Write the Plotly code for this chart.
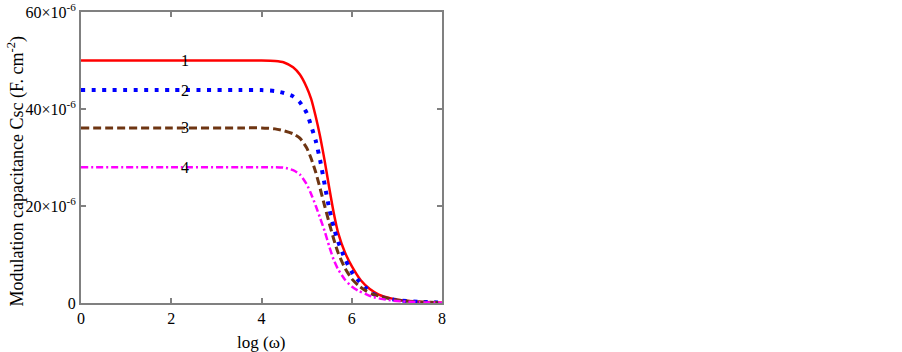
import plotly.graph_objects as go

# Values (capacitance in units of 1e-6 F.cm^-2)
x1 = [0, 2, 3.5, 4.0, 4.3, 4.5, 4.7, 4.85, 5.0, 5.1, 5.2, 5.3, 5.4, 5.5, 5.6, 5.7, 5.85, 6.0, 6.2, 6.4, 6.6, 6.85, 7.1, 7.5, 8.0]
y1 = [50.0, 50.0, 50.0, 50.0, 49.9, 49.6, 48.6, 47.1, 44.5, 42.1, 38.5, 34.3, 29.3, 23.8, 18.6, 14.4, 10.4, 7.6, 4.7, 2.9, 1.75, 1.0, 0.55, 0.25, 0.06]

x2 = [0, 2, 3.5, 4.0, 4.3, 4.5, 4.7, 4.85, 5.0, 5.1, 5.2, 5.3, 5.4, 5.5, 5.6, 5.7, 5.85, 6.0, 6.15, 6.3, 6.45, 6.65, 6.9, 7.1, 7.5, 8.0]
y2 = [43.9, 43.9, 43.9, 43.9, 43.7, 43.3, 42.6, 41.4, 39.2, 36.5, 33.5, 29.4, 24.4, 19.5, 15.6, 12.6, 9.1, 6.4, 4.6, 3.2, 2.0, 1.2, 0.75, 0.5, 0.25, 0.08]

x3 = [0, 2, 3.5, 4.0, 4.3, 4.5, 4.7, 4.85, 5.0, 5.1, 5.2, 5.3, 5.4, 5.5, 5.6, 5.7, 5.85, 6.0, 6.15, 6.3, 6.45, 6.65, 6.9, 7.1, 7.5, 8.0]
y3 = [36.1, 36.1, 36.1, 36.1, 35.9, 35.5, 34.9, 34.0, 32.0, 29.8, 27.0, 23.6, 20.0, 16.5, 13.2, 10.3, 7.2, 5.0, 3.6, 2.6, 1.9, 1.3, 0.8, 0.5, 0.2, 0.08]

x4 = [0, 2, 3.5, 4.0, 4.3, 4.5, 4.7, 4.85, 5.0, 5.1, 5.2, 5.3, 5.4, 5.5, 5.6, 5.7, 5.85, 6.0, 6.15, 6.3, 6.45, 6.65, 6.9, 7.1, 7.5, 8.0]
y4 = [28.0, 28.0, 28.0, 28.0, 28.0, 27.9, 27.4, 26.5, 24.5, 22.5, 20.1, 17.5, 14.8, 11.7, 8.9, 6.9, 4.8, 3.4, 2.5, 1.9, 1.3, 0.85, 0.5, 0.35, 0.15, 0.06]

curve_labels = ["1", "2", "3", "4"]
label_x = 2.3

y_tickvals = [0, 20, 40, 60]
y_ticktext = ["0", "20×10<sup>-6</sup>", "40×10<sup>-6</sup>", "60×10<sup>-6</sup>"]
x_tickvals = [0, 2, 4, 6, 8]

x_title = "log (ω)"
y_title = "Modulation capacitance Csc (F. cm<sup>-2</sup>)"

FONT = "Liberation Serif, Times New Roman, serif"

series = [
    (x1, y1, "#ff0000", "solid", 2.5),
    (x2, y2, "#0000ff", "4px,6.5px", 4),
    (x3, y3, "#6e3512", "8px,4px", 3),
    (x4, y4, "#ff00ff", "7px,3px,2px,3px", 2.5),
]

fig = go.Figure()
for xs, ys, col, dash, w in series:
    fig.add_trace(go.Scatter(
        x=xs, y=ys, mode="lines",
        line=dict(color=col, dash=dash, width=w, shape="spline", smoothing=0.6),
        showlegend=False, hoverinfo="skip",
    ))

for lab, ys in zip(curve_labels, [y1, y2, y3, y4]):
    fig.add_annotation(x=label_x, y=ys[0], text=lab, showarrow=False,
                       font=dict(family=FONT, size=16, color="black"),
                       xanchor="center", yanchor="middle")

W, H = 902, 352
plot_l, plot_r, plot_t, plot_b = 81, 442, 12, 303
pw, ph = plot_r - plot_l, plot_b - plot_t

fig.add_annotation(x=0.5, y=(plot_b - 342) / ph, xref="paper", yref="paper",
                   text=x_title, showarrow=False, xanchor="center", yanchor="middle",
                   font=dict(family=FONT, size=17, color="black"))
fig.add_annotation(x=(16.5 - plot_l) / pw, y=(plot_b - 172) / ph,
                   xref="paper", yref="paper", text=y_title,
                   showarrow=False, textangle=-90, xanchor="center", yanchor="middle",
                   font=dict(family=FONT, size=18, color="black"))

axis_common = dict(
    showline=True, linecolor="#808080", linewidth=2, mirror="ticks",
    ticks="inside", ticklen=5, tickcolor="#808080", tickwidth=1.5,
    showgrid=False, zeroline=False, automargin=False, ticklabeloverflow="allow",
    tickfont=dict(family=FONT, size=16, color="black"),
)

fig.update_layout(
    width=W, height=H,
    margin=dict(l=plot_l, r=W - plot_r, t=plot_t, b=H - plot_b),
    paper_bgcolor="white", plot_bgcolor="white",
    xaxis=dict(range=[0, 8], tickvals=x_tickvals, **axis_common),
    yaxis=dict(range=[0, 60], tickvals=y_tickvals, ticktext=y_ticktext, **axis_common),
)

fig.write_html("out.html", config={"displayModeBar": False},
               post_script="document.body.style.margin='0px';")
